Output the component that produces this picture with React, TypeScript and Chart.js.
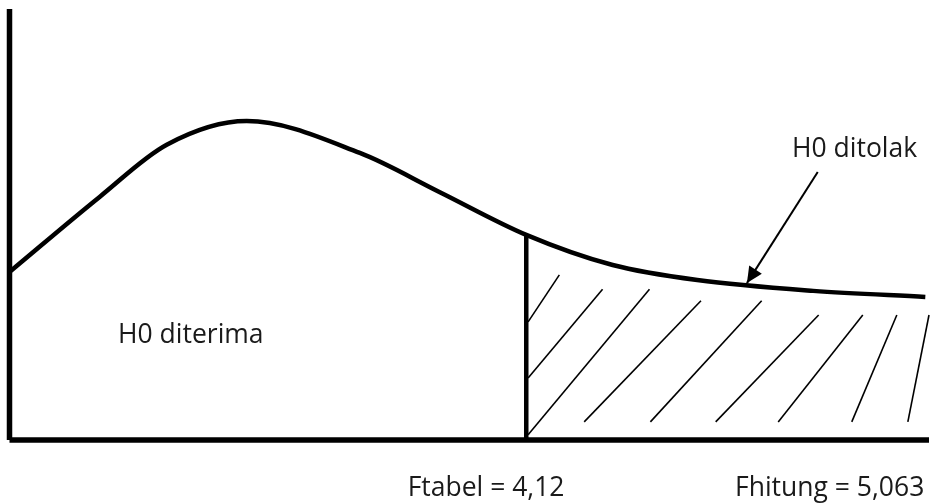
import React, { useEffect, useRef } from "react";
import { Chart, registerables } from "chart.js";

Chart.register(...registerables);

// Density curve (abstract units: x along the F axis, y = density height)
const curveX = [0, 9.8, 17.1, 25.8, 38.1, 46.8, 56.2, 65.6, 74.8, 87.4, 99.6];
const curveY = [39.0, 56.4, 68.5, 74.0, 66.6, 57.5, 47.6, 40.6, 37.1, 34.6, 33.2];

// Critical value (Ftabel) position and curve height there
const criticalX = 56.2;
const criticalY = 47.6;

// Axis extents
const axisMaxX = 100;
const axisMaxY = 100;

// Hatch segments in the rejection region: [x1, y1, x2, y2]
const hatchX1 = [56.4, 56.4, 56.4, 62.5, 69.7, 76.8, 83.6, 91.6, 97.7];
const hatchY1 = [27.4, 14.4, 1.2, 4.2, 4.2, 4.2, 4.2, 4.2, 4.2];
const hatchX2 = [59.8, 64.5, 69.6, 75.2, 81.8, 88.0, 92.8, 96.5, 100.0];
const hatchY2 = [38.3, 35.0, 35.0, 32.3, 32.3, 29.0, 29.0, 29.0, 29.0];

// Arrow from the "H0 ditolak" label to the curve
const arrowFrom = [87.9, 62.2];
const arrowTo = [80.2, 36.4];

// Text labels
const labelTexts = ["H0 ditolak", "H0 diterima", "Ftabel = 4,12", "Fhitung = 5,063"];
const labelX = [85.1, 11.8, 43.3, 78.9];
const labelY = [65.7, 22.5, -13.0, -13.0];

export default function App() {
  const ref = useRef<HTMLCanvasElement | null>(null);

  useEffect(() => {
    if (!ref.current) return;

    const black = "#000000";
    const lineBase = {
      type: "line" as const,
      borderColor: black,
      pointRadius: 0,
      pointHoverRadius: 0,
      fill: false,
      clip: false as any,
      tension: 0,
    };

    const datasets: any[] = [];

    // axes
    datasets.push({ ...lineBase, data: [{ x: 0, y: 0 }, { x: 0, y: axisMaxY }], borderWidth: 5.5, borderCapStyle: "butt" });
    datasets.push({ ...lineBase, data: [{ x: 0, y: 0 }, { x: axisMaxX, y: 0 }], borderWidth: 5.5, borderCapStyle: "butt" });

    // curve
    datasets.push({
      ...lineBase,
      data: curveX.map((x, i) => ({ x, y: curveY[i] })),
      borderWidth: 4.5,
      cubicInterpolationMode: "monotone",
      borderCapStyle: "butt",
      borderJoinStyle: "round",
    });

    // critical value line
    datasets.push({ ...lineBase, data: [{ x: criticalX, y: 0 }, { x: criticalX, y: criticalY }], borderWidth: 4.5 });

    // hatches
    hatchX1.forEach((_, i) => {
      datasets.push({
        ...lineBase,
        data: [{ x: hatchX1[i], y: hatchY1[i] }, { x: hatchX2[i], y: hatchY2[i] }],
        borderWidth: 1.6,
      });
    });

    // arrow shaft
    datasets.push({
      ...lineBase,
      data: [{ x: arrowFrom[0], y: arrowFrom[1] }, { x: arrowTo[0], y: arrowTo[1] }],
      borderWidth: 2,
    });

    const overlay = {
      id: "overlay",
      afterDatasetsDraw(chart: any) {
        const { ctx, scales } = chart;
        const xs = scales.x;
        const ys = scales.y;
        ctx.save();
        // arrowhead
        const x1 = xs.getPixelForValue(arrowFrom[0]);
        const y1 = ys.getPixelForValue(arrowFrom[1]);
        const x2 = xs.getPixelForValue(arrowTo[0]);
        const y2 = ys.getPixelForValue(arrowTo[1]);
        const ang = Math.atan2(y2 - y1, x2 - x1);
        const len = 16;
        const half = 7.5;
        const bx = x2 - Math.cos(ang) * len;
        const by = y2 - Math.sin(ang) * len;
        ctx.fillStyle = "#000";
        ctx.beginPath();
        ctx.moveTo(x2, y2);
        ctx.lineTo(bx + Math.sin(ang) * half, by - Math.cos(ang) * half);
        ctx.lineTo(bx - Math.sin(ang) * half, by + Math.cos(ang) * half);
        ctx.closePath();
        ctx.fill();

        // labels
        ctx.font = "26.5px 'Open Sans', 'Noto Sans', sans-serif";
        ctx.textAlign = "left";
        ctx.textBaseline = "alphabetic";
        ctx.fillStyle = "#1a1a1a";
        labelTexts.forEach((t, i) => {
          ctx.fillText(t, xs.getPixelForValue(labelX[i]), ys.getPixelForValue(labelY[i]));
        });
        ctx.restore();
      },
    };

    const chart = new Chart(ref.current, {
      type: "line",
      data: { datasets },
      options: {
        animation: false,
        responsive: false,
        events: [],
        layout: { padding: { left: 9.5, top: 9, right: 4, bottom: 64 } },
        plugins: { legend: { display: false }, tooltip: { enabled: false } },
        scales: {
          x: { type: "linear", min: 0, max: axisMaxX, display: false },
          y: { type: "linear", min: 0, max: axisMaxY, display: false },
        },
      },
      plugins: [overlay],
    });

    return () => chart.destroy();
  }, []);

  return (
    <canvas
      ref={ref}
      width={933}
      height={504}
      style={{ position: "absolute", left: 0, top: 0, width: 933, height: 504, background: "#fff" }}
    />
  );
}
